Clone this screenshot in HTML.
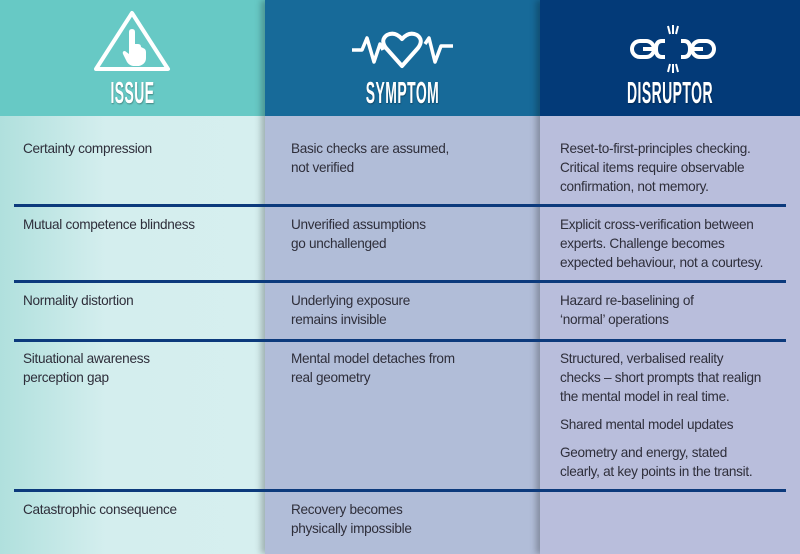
<!DOCTYPE html>
<html><head><meta charset="utf-8"><style>
body{margin:0;width:800px;height:554px;overflow:hidden;position:relative;font-family:"Liberation Sans",sans-serif;}
.col{position:absolute;top:0;height:554px}
.h{position:absolute;top:0;height:116px;width:100%}
.b{position:absolute;top:116px;bottom:0;width:100%}
.title{position:absolute;top:77px;left:0;width:100%;text-align:center;color:#fff;font-weight:bold;font-size:31px;line-height:32px;transform:scaleX(.45);letter-spacing:1px;text-shadow:1px 1px 2px rgba(0,0,0,.35)}
.line{position:absolute;left:14px;width:772px;height:2.5px;background:#0c3a7c}
.t{position:absolute;font-size:13.6px;line-height:19px;color:#2e2e3a;letter-spacing:-0.3px}
</style></head><body>
<div class="col" style="left:0;width:265px">
 <div class="h" style="background:#67c9c5"></div>
 <div class="b" style="background:linear-gradient(90deg,#b0e0dd,#d4eeee 40%,#d6efef)"></div>
 <svg style="position:absolute;left:92px;top:10px" width="80" height="62" viewBox="0 0 80 62"><polygon points="40,3 76,59 4,59" fill="none" stroke="#fff" stroke-width="4" stroke-linejoin="round"/><path d="M37 22 q0-3 3-3 q3 0 3 3 v12 l3 0 q3 0 3 3 l2 1 q3 1 3 4 v6 q0 6-7 8 h-6 q-5-1-7-6 l-3-6 q-1-3 2-3 l4 3z" fill="#fff"/></svg>
 <div class="title">ISSUE</div>
</div>
<div class="col" style="left:265px;width:275px;box-shadow:-4px 0 6px rgba(0,0,0,.25)">
 <div class="h" style="background:#176a99"></div>
 <div class="b" style="background:#b1bdd8"></div>
 <svg style="position:absolute;left:85px;top:30px" width="105" height="40" viewBox="0 0 105 40"><path d="M2 20 h10 l5-12 l7 24 l6-18 l3 6 M75 14 l4-6 l6 24 l6-16 h12" fill="none" stroke="#fff" stroke-width="3.5" stroke-linejoin="round"/><path d="M52 36 L36 18 Q30 10 37 5 Q45 1 52 9 Q59 1 67 5 Q74 10 68 18 Z" fill="none" stroke="#fff" stroke-width="4" stroke-linejoin="round"/></svg>
 <div class="title">SYMPTOM</div>
</div>
<div class="col" style="left:540px;width:260px;box-shadow:-4px 0 6px rgba(0,0,0,.25)">
 <div class="h" style="background:#033a78"></div>
 <div class="b" style="background:#b9bedc"></div>
 <svg style="position:absolute;left:88px;top:24px" width="90" height="50" viewBox="0 0 90 50"><g fill="none" stroke="#fff" stroke-width="4"><rect x="4" y="17" width="22" height="16" rx="8"/><rect x="64" y="17" width="22" height="16" rx="8"/><path d="M37 17 h-3 q-6 0-6 8 q0 8 6 8 h3 M53 17 h3 q6 0 6 8 q0 8-6 8 h-3"/></g><path d="M15 25 h10 M65 25 h10" stroke="#fff" stroke-width="4"/><g stroke="#fff" stroke-width="2"><path d="M40 2 l2 8 M45 1 v9 M50 2 l-2 8 M40 48 l2-8 M45 49 v-9 M50 48 l-2-8"/></g></svg>
 <div class="title">DISRUPTOR</div>
</div>
<div class="line" style="top:204px"></div>
<div class="line" style="top:280px"></div>
<div class="line" style="top:339px"></div>
<div class="line" style="top:489px"></div>
<div class="t" style="left:23px;top:139px">Certainty compression</div>
<div class="t" style="left:291px;top:139px">Basic checks are assumed,<br>not verified</div>
<div class="t" style="left:560px;top:139px">Reset-to-first-principles checking.<br>Critical items require observable<br>confirmation, not memory.</div>
<div class="t" style="left:23px;top:215px">Mutual competence blindness</div>
<div class="t" style="left:291px;top:215px">Unverified assumptions<br>go unchallenged</div>
<div class="t" style="left:560px;top:215px">Explicit cross-verification between<br>experts. Challenge becomes<br>expected behaviour, not a courtesy.</div>
<div class="t" style="left:23px;top:291px">Normality distortion</div>
<div class="t" style="left:291px;top:291px">Underlying exposure<br>remains invisible</div>
<div class="t" style="left:560px;top:291px">Hazard re-baselining of<br>‘normal’ operations</div>
<div class="t" style="left:23px;top:349px">Situational awareness<br>perception gap</div>
<div class="t" style="left:291px;top:349px">Mental model detaches from<br>real geometry</div>
<div class="t" style="left:560px;top:349px">Structured, verbalised reality<br>checks – short prompts that realign<br>the mental model in real time.</div>
<div class="t" style="left:560px;top:415px">Shared mental model updates</div>
<div class="t" style="left:560px;top:443px">Geometry and energy, stated<br>clearly, at key points in the transit.</div>
<div class="t" style="left:23px;top:500px">Catastrophic consequence</div>
<div class="t" style="left:291px;top:500px">Recovery becomes<br>physically impossible</div>
</body></html>
